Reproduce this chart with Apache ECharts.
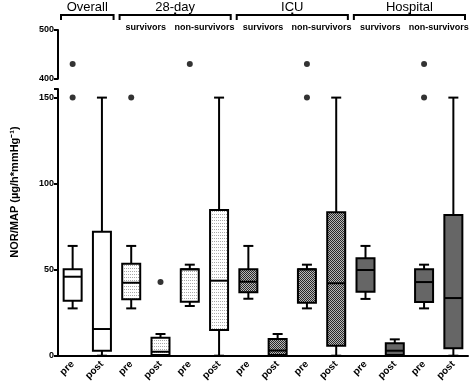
<!DOCTYPE html>
<html>
<head>
<meta charset="utf-8">
<script src="https://cdn.jsdelivr.net/npm/echarts@6/dist/echarts.min.js"></script>
<style>
html, body { margin: 0; padding: 0; background: #fff; }
#main { width: 472px; height: 389px; }
</style>
</head>
<body>
<div id="main"></div>
<script>
// box data, one entry per category
const categories  = ['pre', 'post', 'pre', 'post', 'pre', 'post', 'pre', 'post', 'pre', 'post', 'pre', 'post', 'pre', 'post'];
const whiskerLow  = [27.5, 0, 27.5, 0, 28.9, 0, 33.1, 0, 27.5, 0, 33, 0, 27.5, 0];
const quartile1   = [32, 2.9, 32.8, 0.4, 31.4, 14.9, 36.9, 0.4, 30.8, 5.8, 37.2, 0.4, 31.2, 4.3];
const medians     = [45.9, 15.5, 42.4, 2.3, 50.2, 43.6, 43, 3, 50.2, 42.1, 49.8, 2.9, 42.8, 33.5];
const quartile3   = [50.2, 72, 53.5, 10.5, 50.2, 84.7, 50.2, 9.7, 50.2, 83.4, 56.6, 7.2, 50.2, 81.8];
const whiskerHigh = [63.8, 150, 63.8, 12.6, 52.9, 150, 63.8, 12.6, 52.9, 150, 63.8, 9.5, 52.9, 150];
const outliers    = [[0, 150], [0, 430], [2, 150], [3, 42.8], [4, 430], [8, 150], [8, 430], [12, 150], [12, 430]];
const groups      = ['Overall', '28-day', 'ICU', 'Hospital'];
const subgroups   = ['survivors', 'non-survivors'];
const lowerTicks  = [0, 50, 100, 150];

const FONT = 'Liberation Sans, Arial, Helvetica, sans-serif';

function makePattern(w, h, bg, dots) {
    let c = document.createElement('canvas');
    c.width = w;
    c.height = h;
    let ctx = c.getContext('2d');
    ctx.fillStyle = bg;
    ctx.fillRect(0, 0, w, h);
    dots.forEach((d) => {
        ctx.fillStyle = d[2];
        ctx.fillRect(d[0], d[1], 1, 1);
    });
    return { image: c, repeat: 'repeat' };
}

const fills = [
    '#ffffff',
    makePattern(2, 3, '#ffffff', [[0, 1, '#a8a8a8']]),
    makePattern(2, 2, '#b8b8b8', [[0, 0, '#2a2a2a'], [1, 1, '#2a2a2a']]),
    '#666666'
];

function groupOf(i) {
    return i < 2 ? 0 : Math.floor((i - 2) / 4) + 1;
}

let boxData = categories.map((c, i) => [i, whiskerLow[i], quartile1[i], medians[i], quartile3[i], whiskerHigh[i]]);

function renderBox(params, api) {
    let i = api.value(0);
    let cx = api.coord([i, 0])[0];
    let y = (v) => api.coord([i, v])[1];
    let half = 9, cap = 5;
    let yMin = y(api.value(1)), yQ1 = y(api.value(2)), yMed = y(api.value(3)), yQ3 = y(api.value(4)), yMax = y(api.value(5));
    let ln = { stroke: '#000', lineWidth: 2 };
    return {
        type: 'group',
        children: [
            { type: 'line', shape: { x1: cx, y1: yMax, x2: cx, y2: yQ3 }, style: ln },
            { type: 'line', shape: { x1: cx - cap, y1: yMax, x2: cx + cap, y2: yMax }, style: ln },
            { type: 'line', shape: { x1: cx, y1: yQ1, x2: cx, y2: yMin }, style: ln },
            { type: 'line', shape: { x1: cx - cap, y1: yMin, x2: cx + cap, y2: yMin }, style: ln },
            { type: 'rect', shape: { x: cx - half, y: yQ3, width: half * 2, height: yQ1 - yQ3 },
              style: { fill: fills[groupOf(i)], stroke: '#000', lineWidth: 2 } },
            { type: 'line', shape: { x1: cx - half, y1: yMed, x2: cx + half, y2: yMed }, style: ln }
        ]
    };
}

let axisLine = { show: true, lineStyle: { color: '#000', width: 2 } };
let tickStyle = { color: '#000', width: 2 };
let labelStyle = { color: '#000', fontFamily: FONT, fontWeight: 'bold', fontSize: 9 };

let chart = echarts.init(document.getElementById('main'));

chart.setOption({
    animation: false,
    grid: [
        { left: 58, right: 4, top: 89, bottom: 33.3 },
        { left: 58, right: 4, top: 30, height: 48.7 }
    ],
    xAxis: [
        {
            type: 'category', gridIndex: 0, data: categories,
            axisLine: axisLine,
            axisTick: { alignWithLabel: true, length: 4, lineStyle: tickStyle },
            axisLabel: { interval: 0, rotate: 45, margin: 7, color: '#000', fontFamily: FONT, fontWeight: 'bold', fontSize: 10 }
        },
        { type: 'category', gridIndex: 1, data: categories, show: false }
    ],
    yAxis: [
        {
            type: 'value', gridIndex: 0, min: 0, max: 155,
            axisLine: axisLine,
            axisTick: { show: true, length: 4, lineStyle: tickStyle, customValues: lowerTicks.concat([155]) },
            axisLabel: Object.assign({ margin: 4, customValues: lowerTicks }, labelStyle),
            splitLine: { show: false }
        },
        {
            type: 'value', gridIndex: 1, min: 400, max: 500, interval: 100,
            axisLine: axisLine,
            axisTick: { show: true, length: 4, lineStyle: tickStyle },
            axisLabel: Object.assign({ margin: 4 }, labelStyle),
            splitLine: { show: false }
        }
    ],
    series: [
        {
            type: 'custom', xAxisIndex: 0, yAxisIndex: 0,
            renderItem: renderBox,
            encode: { x: 0, y: [1, 2, 3, 4, 5] },
            data: boxData
        },
        {
            type: 'scatter', xAxisIndex: 0, yAxisIndex: 0,
            symbolSize: 6, itemStyle: { color: '#000' },
            data: outliers.filter((o) => o[1] <= 155)
        },
        {
            type: 'scatter', xAxisIndex: 1, yAxisIndex: 1,
            symbolSize: 6, itemStyle: { color: '#000' },
            data: outliers.filter((o) => o[1] >= 400)
        }
    ]
});

// brackets and group labels above the plot
let centerOf = (i) => chart.convertToPixel({ xAxisIndex: 0 }, i);
let band = centerOf(1) - centerOf(0);
let spans = [[0, 1], [2, 5], [6, 9], [10, 13]];
let graphics = [];
spans.forEach((s, g) => {
    let x0 = centerOf(s[0]) - band / 2 + 3;
    let x1 = centerOf(s[1]) + band / 2 - 3;
    let mid = (x0 + x1) / 2;
    graphics.push({
        type: 'polyline',
        shape: { points: [[x0, 20], [x0, 15], [x1, 15], [x1, 20]] },
        style: { stroke: '#000', lineWidth: 2, fill: null }
    });
    graphics.push({
        type: 'text', x: mid, y: 7.5,
        style: { text: groups[g], align: 'center', verticalAlign: 'middle', fontFamily: FONT, fontSize: 13, fill: '#000' }
    });
    if (s[1] - s[0] > 1) {
        graphics.push({
            type: 'line',
            shape: { x1: mid, y1: 15, x2: mid, y2: 12.5 },
            style: { stroke: '#000', lineWidth: 2 }
        });
        subgroups.forEach((name, k) => {
            let a = s[0] + k * 2;
            graphics.push({
                type: 'text', x: (centerOf(a) + centerOf(a + 1)) / 2, y: 27.5,
                style: { text: name, align: 'center', verticalAlign: 'middle', fontFamily: FONT, fontWeight: 'bold', fontSize: 9, fill: '#000' }
            });
        });
    }
});
graphics.push({
    type: 'text', x: 15, y: 192, rotation: Math.PI / 2,
    style: { text: 'NOR/MAP (µg/h*mmHg⁻¹)', align: 'center', verticalAlign: 'middle', fontFamily: FONT, fontWeight: 'bold', fontSize: 11, fill: '#000' }
});
chart.setOption({ graphic: graphics });
</script>
</body>
</html>
